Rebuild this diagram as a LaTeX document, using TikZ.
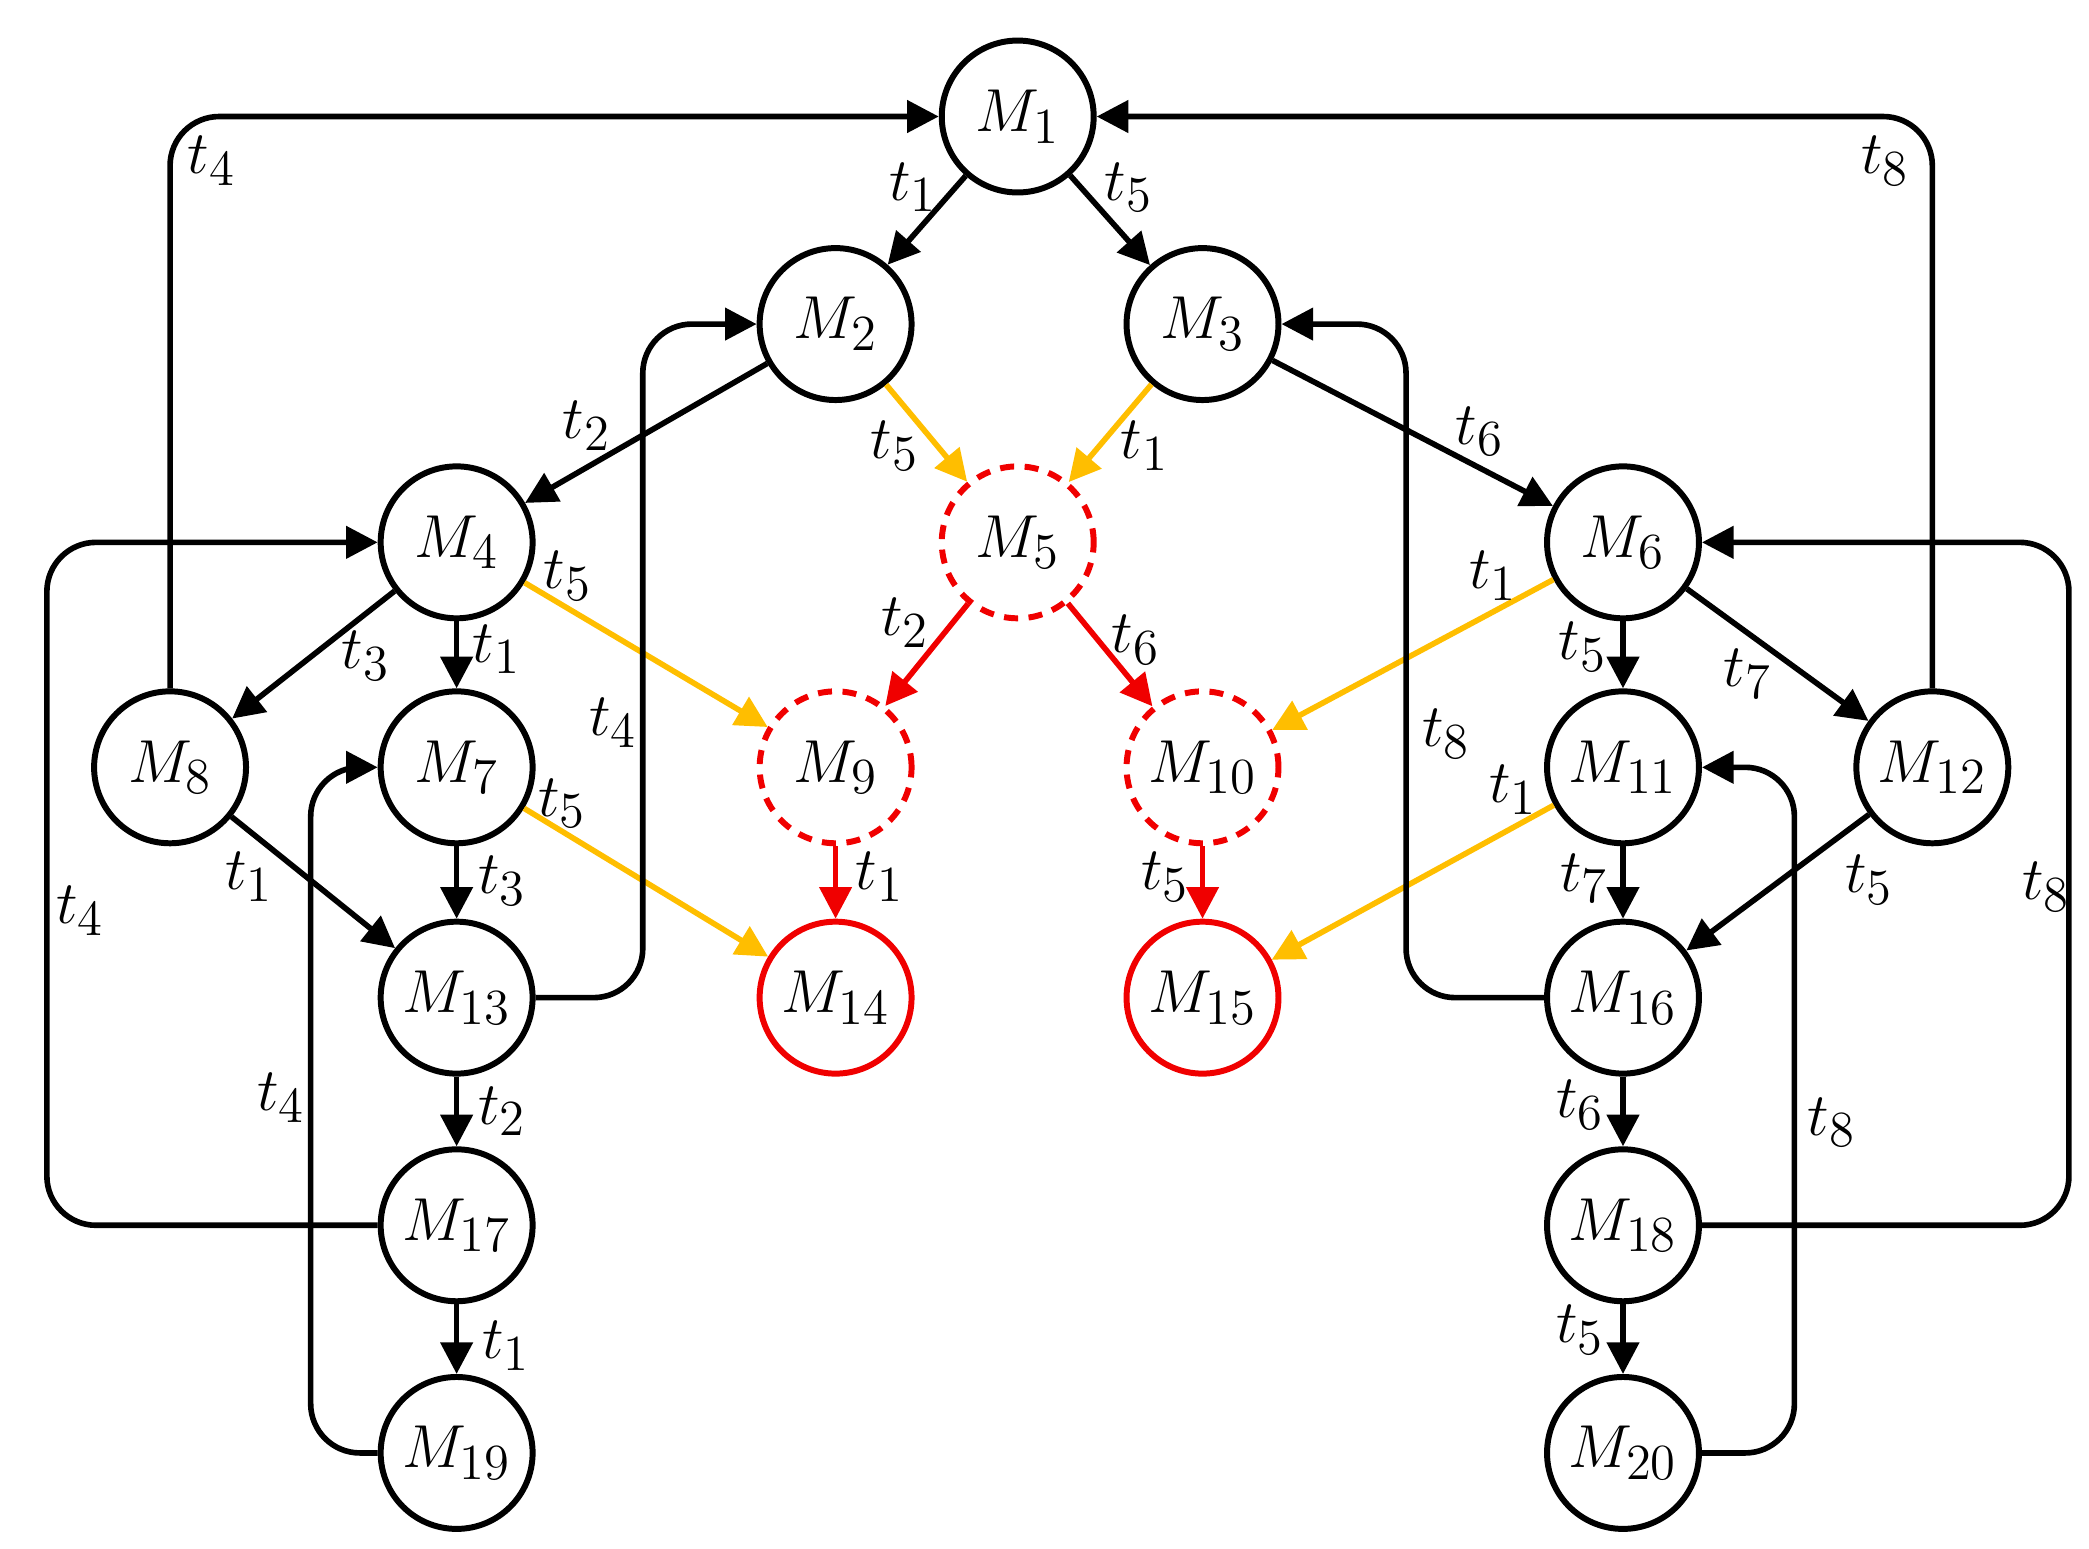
\documentclass[tikz,border=0pt]{standalone}
\usetikzlibrary{arrows.meta}
\definecolor{pnorange}{RGB}{255,190,0}
\definecolor{pnred}{RGB}{240,0,0}
\begin{document}
\begin{tikzpicture}[x=0.01339cm,y=-0.01339cm,
  st/.style={draw,circle,line width=1.7pt,minimum size=1.52cm,inner sep=0pt,font=\fontsize{19}{23}\selectfont},
  dd/.style={st,draw=pnred,dashed,dash pattern=on 4pt off 3pt},
  rd/.style={st,draw=pnred},
  ar/.style={-{Triangle[length=9pt,width=9pt]},line width=1.6pt,rounded corners=14pt},
  oa/.style={ar,draw=pnorange,-{Triangle[length=9pt,width=9pt,fill=pnorange]}},
  ra/.style={ar,draw=pnred,-{Triangle[length=9pt,width=9pt,fill=pnred]}},
  lb/.style={font=\fontsize{19}{23}\selectfont}]
\useasboundingbox (0,0) rectangle (1560,1156);
\node[st] (m1) at (760,87) {$M_1$};
\node[st] (m2) at (624,242) {$M_2$};
\node[st] (m3) at (898,242) {$M_3$};
\node[st] (m4) at (341,405) {$M_4$};
\node[dd] (m5) at (760,405) {$M_5$};
\node[st] (m6) at (1212,405) {$M_6$};
\node[st] (m8) at (127,573) {$M_8$};
\node[st] (m7) at (341,573) {$M_7$};
\node[dd] (m9) at (624,573) {$M_9$};
\node[dd] (m10) at (898,573) {$M_{10}$};
\node[st] (m11) at (1212,573) {$M_{11}$};
\node[st] (m12) at (1443,573) {$M_{12}$};
\node[st] (m13) at (341,745) {$M_{13}$};
\node[rd] (m14) at (624,745) {$M_{14}$};
\node[rd] (m15) at (898,745) {$M_{15}$};
\node[st] (m16) at (1212,745) {$M_{16}$};
\node[st] (m17) at (341,915) {$M_{17}$};
\node[st] (m18) at (1212,915) {$M_{18}$};
\node[st] (m19) at (341,1085) {$M_{19}$};
\node[st] (m20) at (1212,1085) {$M_{20}$};
% straight arcs
\draw[ar] (m1) -- (m2); \draw[ar] (m1) -- (m3);
\draw[ar] (m2) -- (m4); \draw[ar] (m3) -- (m6);
\draw[oa] (m2) -- (m5); \draw[oa] (m3) -- (m5);
\draw[ra] (m5) -- (m9); \draw[ra] (m5) -- (m10);
\draw[ra] (m9) -- (m14); \draw[ra] (m10) -- (m15);
\draw[ar] (m4) -- (m8); \draw[ar] (m4) -- (m7); \draw[oa] (m4) -- (m9);
\draw[ar] (m7) -- (m13); \draw[oa] (m7) -- (m14);
\draw[ar] (m8) -- (m13);
\draw[ar] (m13) -- (m17); \draw[ar] (m17) -- (m19);
\draw[ar] (m6) -- (m11); \draw[ar] (m6) -- (m12); \draw[oa] (m6) -- (m10);
\draw[ar] (m11) -- (m16); \draw[oa] (m11) -- (m15);
\draw[ar] (m12) -- (m16);
\draw[ar] (m16) -- (m18); \draw[ar] (m18) -- (m20);
% return arcs
\draw[ar] (m8.north) -- (127,87) -- (m1.west);
\draw[ar] (m13.east) -- (480,745) -- (480,242) -- (m2.west);
\draw[ar] (m17.west) -- (35,915) -- (35,405) -- (m4.west);
\draw[ar] (m19.west) -- (232,1085) -- (232,573) -- (m7.west);
\draw[ar] (m12.north) -- (1443,87) -- (m1.east);
\draw[ar] (m16.west) -- (1050,745) -- (1050,242) -- (m3.east);
\draw[ar] (m18.east) -- (1545,915) -- (1545,405) -- (m6.east);
\draw[ar] (m20.east) -- (1340,1085) -- (1340,573) -- (m11.east);
% labels
\foreach \x/\y/\t in {682/140/t_1,843/140/t_5,438/318/t_2,668/333/t_5,855/333/t_1,1105/322/t_6,
 424/430/t_5,273/490/t_3,371/485/t_1,458/540/t_4,676/465/t_2,848/478/t_6,1115/430/t_1,
 1182/483/t_5,1305/503/t_7,1080/548/t_8,1408/120/t_8,158/120/t_4,186/655/t_1,420/600/t_5,
 375/658/t_3,60/680/t_4,657/655/t_1,870/655/t_5,1130/590/t_1,1183/656/t_7,1396/657/t_5,
 1528/662/t_8,375/830/t_2,210/820/t_4,1180/825/t_6,1368/838/t_8,378/1005/t_1,1180/993/t_5}
  \node[lb] at (\x,\y) {$\t$};
\end{tikzpicture}
\end{document}
